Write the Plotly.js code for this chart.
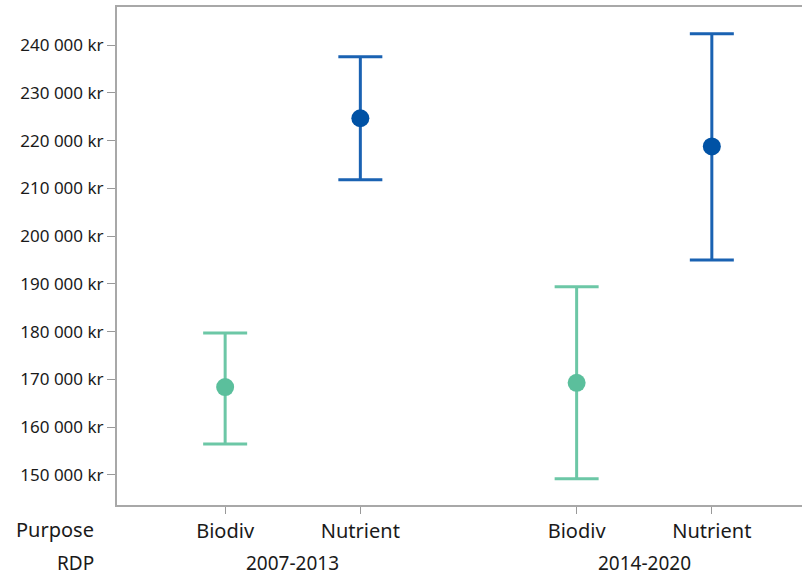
<!DOCTYPE html>
<html>
<head>
<meta charset="utf-8">
<script src="https://cdn.plot.ly/plotly-3.0.1.min.js"></script>
<style>html,body{margin:0;padding:0;background:#fff;}#chart{width:802px;height:576px;}</style>
</head>
<body>
<div id="chart"></div>
<script>
// Data
const periods  = ["2007-2013", "2007-2013", "2014-2020", "2014-2020"];
const purposes = ["Biodiv", "Nutrient", "Biodiv", "Nutrient"];
const means    = [168400, 224700, 169300, 218800];
const upper    = [179700, 237600, 189400, 242400];
const lower    = [156500, 211800, 149200, 195000];
const yTicks   = [150000, 160000, 170000, 180000, 190000, 200000, 210000, 220000, 230000, 240000];
const yTickText = ["150 000 kr", "160 000 kr", "170 000 kr", "180 000 kr", "190 000 kr",
                   "200 000 kr", "210 000 kr", "220 000 kr", "230 000 kr", "240 000 kr"];

const periodList  = ["2007-2013", "2014-2020"];
const purposeList = ["Biodiv", "Nutrient"];
const colors = {Biodiv: {marker: "#5bbf9c", bar: "#6cc7a6"}, Nutrient: {marker: "#0052a5", bar: "#1a62b2"}};
const groupGap = 2.6;

const xpos = periods.map((p, i) => periodList.indexOf(p) * groupGap + purposeList.indexOf(purposes[i]));

const traces = purposeList.map(pur => {
  const idx = purposes.map((p, i) => p === pur ? i : -1).filter(i => i >= 0);
  return {
    type: "scatter", mode: "markers", name: pur,
    x: idx.map(i => xpos[i]),
    y: idx.map(i => means[i]),
    marker: {color: colors[pur].marker, size: 18},
    error_y: {
      type: "data", symmetric: false,
      array: idx.map(i => upper[i] - means[i]),
      arrayminus: idx.map(i => means[i] - lower[i]),
      color: colors[pur].bar, thickness: 3, width: 22
    },
    showlegend: false, hoverinfo: "x+y"
  };
});

const FAM = "Noto Sans, Open Sans, sans-serif";
const TXT = "#1a1a1a";
const annotations = periodList.map(p => {
  const xs = xpos.filter((x, i) => periods[i] === p);
  return {
    text: p, x: (Math.min(...xs) + Math.max(...xs)) / 2, xref: "x",
    y: -0.116, yref: "paper", yanchor: "middle", xanchor: "center",
    showarrow: false, font: {family: FAM, size: 19, color: TXT}
  };
});
annotations.push({text: "Purpose", x: -0.0905, xref: "paper", y: -0.05, yref: "paper",
  xanchor: "center", yanchor: "middle", showarrow: false, font: {family: FAM, size: 20, color: TXT}});
annotations.push({text: "RDP", x: -0.0613, xref: "paper", y: -0.116, yref: "paper",
  xanchor: "center", yanchor: "middle", showarrow: false, font: {family: FAM, size: 19, color: TXT}});

const layout = {
  width: 802, height: 576,
  margin: {l: 117, r: 0, t: 7, b: 71},
  paper_bgcolor: "#fff", plot_bgcolor: "#fff",
  font: {family: FAM, color: TXT},
  xaxis: {
    range: [-0.8, 4.267], showgrid: false, zeroline: false,
    tickmode: "array", tickvals: xpos, ticktext: purposes,
    ticks: "outside", ticklen: 7, tickwidth: 1, tickcolor: "#999",
    showline: true, linecolor: "#a8a8a8", linewidth: 2, mirror: true,
    tickfont: {family: FAM, size: 20, color: TXT}
  },
  yaxis: {
    range: [143700, 248000], showgrid: false, zeroline: false,
    tickmode: "array", tickvals: yTicks, ticktext: yTickText,
    ticks: "outside", ticklen: 8, tickwidth: 1, tickcolor: "#999",
    showline: true, linecolor: "#a8a8a8", linewidth: 2,
    tickfont: {family: FAM, size: 17, color: TXT}
  },
  annotations: annotations
};

Plotly.newPlot("chart", traces, layout, {staticPlot: true, displayModeBar: false});
</script>
</body>
</html>
